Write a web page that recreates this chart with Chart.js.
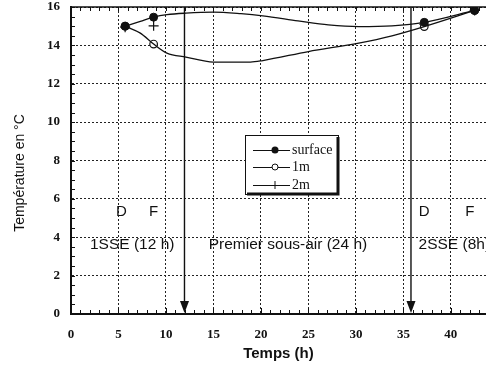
<!DOCTYPE html>
<html>
<head>
<meta charset="utf-8">
<script src="https://cdn.jsdelivr.net/npm/chart.js@4.4.0/dist/chart.umd.min.js"></script>
<style>
html, body { margin: 0; padding: 0; background: #fff; }
#wrap { position: relative; width: 486px; height: 367px; }
</style>
</head>
<body>
<div id="wrap"><canvas id="c" width="486" height="367"></canvas></div>
<script>
"use strict";
// measured points (h, °C)
const markTimes = [5.7, 8.7, 37.2, 42.5];
const surfaceTemp = [15.0, 15.47, 15.2, 15.82];
const oneMTemp = [15.0, 14.07, 14.98, 15.82];
const twoMTemp = [14.95, 15.02, 15.1, 15.82];

// fitted curves
const surfaceCurveTimes = [5.7, 7.3, 8.7, 10.1, 12.1, 15, 17.9, 20.2, 23.9, 27.1, 30.3, 33.8, 37.2, 42.5];
const surfaceCurveTemp = [15.0, 15.25, 15.47, 15.6, 15.68, 15.73, 15.65, 15.54, 15.28, 15.07, 14.98, 15.02, 15.2, 15.82];
const oneMCurveTimes = [5.7, 7.3, 8.7, 10.1, 12.1, 15, 18.9, 20.2, 25, 30.3, 33.8, 37.2, 42.5];
const oneMCurveTemp = [15.0, 14.64, 14.07, 13.6, 13.39, 13.13, 13.13, 13.21, 13.68, 14.12, 14.5, 14.98, 15.82];

const seriesNames = ["surface", "1m", "2m"];
const xTicks = [0, 5, 10, 15, 20, 25, 30, 35, 40];
const yTicks = [0, 2, 4, 6, 8, 10, 12, 14, 16];
const arrowTimes = [11.95, 35.8];
const phaseMarks = [["D", 5.3], ["F", 8.7], ["D", 37.2], ["F", 42.0]];
const phaseLabels = [["1SSE (12 h)", 2.0], ["Premier sous-air (24 h)", 14.5], ["2SSE (8h)", 36.6]];

const pts = (xs, ys) => xs.map((x, i) => ({x: x, y: ys[i]}));
const SERIF = "'Liberation Serif', 'DejaVu Serif', serif";
const SANS = "'Liberation Sans', Arial, sans-serif";

const extras = {
  id: "extras",
  beforeDatasetsDraw(chart) {
    const ctx = chart.ctx, a = chart.chartArea;
    const x = chart.scales.x, y = chart.scales.y;
    ctx.save();
    ctx.strokeStyle = "#111";
    // top frame
    ctx.lineWidth = 1.5;
    ctx.beginPath();
    ctx.moveTo(a.left, a.top); ctx.lineTo(a.right, a.top);
    ctx.stroke();
    // minor ticks
    ctx.lineWidth = 1;
    ctx.beginPath();
    for (let t = 0; t <= x.max; t++) {
      const px = Math.round(x.getPixelForValue(t)) + 0.5;
      ctx.moveTo(px, a.bottom); ctx.lineTo(px, a.bottom - (t % 5 === 0 ? 6 : 4));
      ctx.moveTo(px, a.top); ctx.lineTo(px, a.top + 4);
    }
    for (let v = 0; v <= 16; v += 0.5) {
      const py = Math.round(y.getPixelForValue(v)) + 0.5;
      ctx.moveTo(a.left, py); ctx.lineTo(a.left + 4, py);
    }
    ctx.stroke();
    // arrows
    arrowTimes.forEach(t => {
      const px = x.getPixelForValue(t);
      ctx.lineWidth = 1.4;
      ctx.beginPath();
      ctx.moveTo(px, a.top); ctx.lineTo(px, a.bottom - 8);
      ctx.stroke();
      ctx.fillStyle = "#111";
      ctx.beginPath();
      ctx.moveTo(px - 4.5, a.bottom - 13);
      ctx.lineTo(px + 4.5, a.bottom - 13);
      ctx.lineTo(px, a.bottom - 1);
      ctx.closePath();
      ctx.fill();
    });
    // phase text
    ctx.fillStyle = "#111";
    ctx.font = "15px " + SANS;
    ctx.textBaseline = "middle";
    ctx.textAlign = "center";
    phaseMarks.forEach(([s, t]) => ctx.fillText(s, x.getPixelForValue(t), y.getPixelForValue(5.33)));
    ctx.textAlign = "left";
    ctx.font = "15.5px " + SANS;
    phaseLabels.forEach(([s, t]) => ctx.fillText(s, x.getPixelForValue(t), y.getPixelForValue(3.6)));
    // y title
    ctx.font = "14px " + SANS;
    ctx.textAlign = "center";
    ctx.translate(20, 173);
    ctx.rotate(-Math.PI / 2);
    ctx.fillText("Température en °C", 0, 0);
    ctx.restore();
  },
  afterDatasetsDraw(chart) {
    const ctx = chart.ctx;
    const L = 245, T = 135, R = 339, B = 195;
    ctx.save();
    ctx.fillStyle = "#fff";
    ctx.fillRect(L, T, R - L, B - T);
    ctx.strokeStyle = "#111";
    ctx.lineWidth = 1;
    ctx.strokeRect(L + 0.5, T + 0.5, R - L - 1, B - T - 1);
    ctx.lineWidth = 3;
    ctx.beginPath();
    ctx.moveTo(R - 1, T + 2); ctx.lineTo(R - 1, B - 1); ctx.lineTo(L + 2, B - 1);
    ctx.stroke();
    const rows = [150, 167, 185];
    ctx.font = "14px " + SERIF;
    ctx.textBaseline = "middle";
    ctx.fillStyle = "#111";
    rows.forEach((ry, i) => {
      ctx.lineWidth = 1;
      ctx.beginPath();
      ctx.moveTo(253, ry + 0.5); ctx.lineTo(290, ry + 0.5);
      ctx.stroke();
      const mx = 275;
      ctx.beginPath();
      if (i === 0) { ctx.arc(mx, ry, 3.5, 0, 2 * Math.PI); ctx.fill(); }
      else if (i === 1) { ctx.fillStyle = "#fff"; ctx.arc(mx, ry, 3, 0, 2 * Math.PI); ctx.fill(); ctx.stroke(); ctx.fillStyle = "#111"; }
      else { ctx.moveTo(mx, ry - 4); ctx.lineTo(mx, ry + 4); ctx.stroke(); }
      ctx.fillText(seriesNames[i], 292, ry);
    });
    ctx.restore();
  }
};

const curveStyle = {
  showLine: true, pointRadius: 0, borderColor: "#111", borderWidth: 1.3,
  cubicInterpolationMode: "monotone", fill: false
};

new Chart(document.getElementById("c"), {
  type: "scatter",
  data: {
    datasets: [
      Object.assign({label: "surface curve", data: pts(surfaceCurveTimes, surfaceCurveTemp)}, curveStyle),
      Object.assign({label: "1m curve", data: pts(oneMCurveTimes, oneMCurveTemp)}, curveStyle),
      {label: seriesNames[0], data: pts(markTimes, surfaceTemp), pointStyle: "circle", pointRadius: 4,
        backgroundColor: "#111", borderColor: "#111", borderWidth: 1},
      {label: seriesNames[1], data: pts(markTimes, oneMTemp), pointStyle: "circle", pointRadius: 3.8,
        backgroundColor: "#fff", borderColor: "#111", borderWidth: 1.2},
      {label: seriesNames[2], data: pts(markTimes, twoMTemp), pointStyle: "cross", pointRadius: 5,
        backgroundColor: "#111", borderColor: "#111", borderWidth: 1.2}
    ]
  },
  options: {
    responsive: false,
    animation: false,
    layout: {autoPadding: false, padding: {top: 7, right: 0, left: 0, bottom: 0}},
    plugins: {legend: {display: false}, tooltip: {enabled: false}},
    scales: {
      x: {
        type: "linear", min: 0, max: 43.7,
        afterBuildTicks: s => { s.ticks = xTicks.map(v => ({value: v})); },
        afterFit: s => { s.height = 53; s.paddingLeft = 0; s.paddingRight = 0; },
        ticks: {color: "#111", padding: 13, font: {family: SERIF, size: 13, weight: "bold"}},
        grid: {color: "#222", lineWidth: 1, drawTicks: false},
        border: {color: "#111", width: 2, dash: [2, 2]},
        title: {display: true, text: "Temps (h)", color: "#111", padding: {top: 4},
          font: {family: SANS, size: 15, weight: "bold"}}
      },
      y: {
        type: "linear", min: 0, max: 16,
        afterBuildTicks: s => { s.ticks = yTicks.map(v => ({value: v})); },
        afterFit: s => { s.width = 71; s.paddingTop = 0; s.paddingBottom = 0; },
        ticks: {color: "#111", padding: 11, font: {family: SERIF, size: 13, weight: "bold"}},
        grid: {color: "#222", lineWidth: 1, drawTicks: false},
        border: {color: "#111", width: 2, dash: [2, 2]}
      }
    }
  },
  plugins: [extras]
});
</script>
</body>
</html>
